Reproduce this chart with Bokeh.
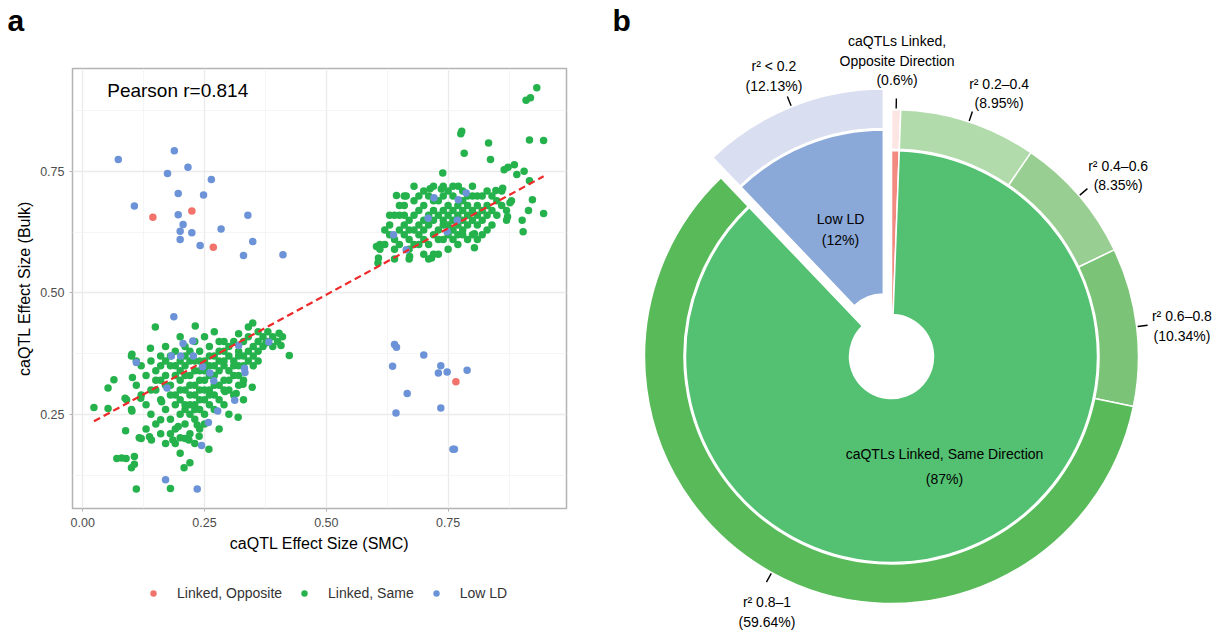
import numpy as np
from bokeh.plotting import figure
from bokeh.models import Range1d, FixedTicker, Legend, LegendItem, NumeralTickFormatter
from bokeh.layouts import row, column
from bokeh.embed import file_html
from bokeh.resources import INLINE
from bokeh.core.properties import value

FONT = "Liberation Sans"

# ---------------- panel a data ----------------
opp_x = [0.144, 0.224, 0.268, 0.766]
opp_y = [0.656, 0.669, 0.594, 0.317]

low_x = [0.073, 0.188, 0.216, 0.174, 0.264, 0.196, 0.248, 0.106, 0.196, 0.339,
         0.206, 0.200, 0.224, 0.284, 0.200, 0.241, 0.349, 0.330, 0.411,
         0.187, 0.206, 0.226, 0.182, 0.201, 0.110, 0.246, 0.227, 0.261, 0.269,
         0.332, 0.333, 0.312, 0.277, 0.258, 0.173, 0.244, 0.170, 0.235, 0.382, 0.320,
         0.638, 0.664, 0.709, 0.721, 0.771, 0.787, 0.769, 0.748,
         0.640, 0.644, 0.700, 0.636, 0.735, 0.730, 0.748, 0.789, 0.666, 0.643,
         0.735, 0.760, 0.763]
low_y = [0.775, 0.793, 0.759, 0.746, 0.734, 0.705, 0.702, 0.679, 0.661, 0.660,
         0.641, 0.627, 0.624, 0.632, 0.610, 0.598, 0.606, 0.577, 0.579,
         0.451, 0.396, 0.401, 0.370, 0.370, 0.357, 0.348, 0.370, 0.335, 0.319,
         0.345, 0.336, 0.279, 0.257, 0.233, 0.304, 0.186, 0.115, 0.096, 0.399, 0.392,
         0.620, 0.589, 0.654, 0.696, 0.692, 0.706, 0.650, 0.626,
         0.394, 0.388, 0.372, 0.349, 0.350, 0.335, 0.337, 0.341, 0.293, 0.253,
         0.263, 0.178, 0.178]

same_pts = [
    # upper-right group, sparse part
    (0.932, 0.923), (0.910, 0.897), (0.919, 0.902), (0.917, 0.815), (0.946, 0.814),
    (0.778, 0.833), (0.776, 0.828), (0.833, 0.809), (0.783, 0.788), (0.837, 0.775),
    (0.865, 0.754), (0.873, 0.759), (0.886, 0.764), (0.906, 0.751), (0.891, 0.744),
    (0.739, 0.747), (0.917, 0.731), (0.923, 0.692), (0.946, 0.664), (0.915, 0.670),
    (0.902, 0.650), (0.904, 0.626), (0.872, 0.657), (0.877, 0.686), (0.862, 0.716),
    (0.848, 0.711), (0.804, 0.593), (0.804, 0.622), (0.603, 0.596), (0.607, 0.572),
    (0.606, 0.562), (0.716, 0.572), (0.671, 0.575), (0.644, 0.701), (0.664, 0.700),
    (0.713, 0.715), (0.736, 0.714), (0.771, 0.720),
    # upper-right group, dense part
    (0.62, 0.60), (0.63, 0.62), (0.63, 0.64), (0.64, 0.61), (0.64, 0.59), (0.65, 0.63),
    (0.65, 0.66), (0.65, 0.60), (0.66, 0.62), (0.66, 0.64), (0.66, 0.68), (0.67, 0.61),
    (0.67, 0.65), (0.67, 0.59), (0.68, 0.63), (0.68, 0.66), (0.68, 0.69), (0.68, 0.60),
    (0.69, 0.62), (0.69, 0.64), (0.69, 0.67), (0.70, 0.61), (0.70, 0.65), (0.70, 0.63),
    (0.70, 0.68), (0.71, 0.60), (0.71, 0.64), (0.71, 0.66), (0.71, 0.70), (0.72, 0.62),
    (0.72, 0.65), (0.72, 0.67), (0.72, 0.58), (0.73, 0.63), (0.73, 0.66), (0.73, 0.69),
    (0.73, 0.61), (0.74, 0.64), (0.74, 0.67), (0.74, 0.65), (0.74, 0.70), (0.75, 0.62),
    (0.75, 0.66), (0.75, 0.68), (0.75, 0.64), (0.76, 0.65), (0.76, 0.67), (0.76, 0.63),
    (0.76, 0.70), (0.77, 0.64), (0.77, 0.66), (0.77, 0.68), (0.77, 0.62), (0.78, 0.65),
    (0.78, 0.67), (0.78, 0.69), (0.78, 0.63), (0.79, 0.66), (0.79, 0.64), (0.79, 0.68),
    (0.80, 0.65), (0.80, 0.67), (0.80, 0.70), (0.80, 0.62), (0.81, 0.66), (0.81, 0.64),
    (0.81, 0.68), (0.82, 0.67), (0.82, 0.65), (0.82, 0.70), (0.83, 0.66), (0.83, 0.68),
    (0.84, 0.67), (0.84, 0.70), (0.85, 0.69), (0.86, 0.71), (0.85, 0.66), (0.84, 0.64),
    (0.83, 0.63), (0.81, 0.61), (0.79, 0.61), (0.77, 0.60), (0.75, 0.59), (0.73, 0.58),
    (0.70, 0.58), (0.69, 0.60), (0.67, 0.63), (0.66, 0.66), (0.65, 0.68), (0.66, 0.70),
    (0.68, 0.72), (0.70, 0.71), (0.72, 0.72), (0.74, 0.72), (0.76, 0.72), (0.78, 0.71),
    (0.80, 0.72), (0.63, 0.66), (0.62, 0.63), (0.61, 0.60), (0.61, 0.59), (0.64, 0.57),
    (0.67, 0.57), (0.71, 0.57), (0.74, 0.61), (0.76, 0.61), (0.78, 0.62), (0.82, 0.62),
    (0.86, 0.68), (0.87, 0.67), (0.88, 0.69), (0.87, 0.65), (0.64, 0.66), (0.69, 0.70),
    (0.72, 0.69), (0.75, 0.71), (0.79, 0.70), (0.81, 0.70), (0.83, 0.71),
    # lower-left group, sparse part
    (0.023, 0.264), (0.052, 0.304), (0.064, 0.321), (0.052, 0.262), (0.070, 0.159),
    (0.089, 0.159), (0.106, 0.163), (0.106, 0.147), (0.110, 0.096), (0.088, 0.216),
    (0.116, 0.202), (0.137, 0.204), (0.141, 0.197), (0.180, 0.097), (0.208, 0.140),
    (0.259, 0.178), (0.239, 0.205), (0.235, 0.228), (0.185, 0.197), (0.196, 0.225),
    (0.200, 0.202), (0.218, 0.197), (0.319, 0.244), (0.348, 0.306), (0.329, 0.312),
    (0.424, 0.371), (0.407, 0.392), (0.403, 0.417), (0.349, 0.438), (0.320, 0.416),
    (0.231, 0.432), (0.149, 0.430), (0.139, 0.386), (0.101, 0.374), (0.102, 0.326),
    (0.087, 0.283), (0.101, 0.257), (0.119, 0.283), (0.160, 0.239), (0.162, 0.276),
    (0.315, 0.293), (0.292, 0.297), (0.376, 0.397),
    # lower-left group, dense part
    (0.14, 0.36), (0.15, 0.34), (0.16, 0.37), (0.17, 0.33), (0.17, 0.39), (0.18, 0.35),
    (0.18, 0.31), (0.19, 0.38), (0.19, 0.33), (0.19, 0.29), (0.20, 0.36), (0.20, 0.41),
    (0.20, 0.32), (0.21, 0.35), (0.21, 0.30), (0.21, 0.27), (0.22, 0.38), (0.22, 0.33),
    (0.22, 0.29), (0.22, 0.25), (0.23, 0.36), (0.23, 0.40), (0.23, 0.31), (0.23, 0.27),
    (0.24, 0.34), (0.24, 0.38), (0.24, 0.30), (0.24, 0.26), (0.25, 0.36), (0.25, 0.32),
    (0.25, 0.41), (0.25, 0.28), (0.26, 0.35), (0.26, 0.39), (0.26, 0.30), (0.27, 0.37),
    (0.27, 0.33), (0.27, 0.29), (0.28, 0.36), (0.28, 0.40), (0.28, 0.31), (0.29, 0.35),
    (0.29, 0.38), (0.29, 0.32), (0.30, 0.34), (0.30, 0.39), (0.30, 0.30), (0.31, 0.36),
    (0.31, 0.33), (0.32, 0.38), (0.32, 0.35), (0.33, 0.40), (0.33, 0.37), (0.34, 0.36),
    (0.34, 0.41), (0.35, 0.39), (0.36, 0.38), (0.37, 0.41), (0.38, 0.40), (0.39, 0.41),
    (0.15, 0.30), (0.16, 0.28), (0.17, 0.26), (0.18, 0.24), (0.19, 0.22), (0.20, 0.25),
    (0.21, 0.23), (0.22, 0.21), (0.23, 0.24), (0.24, 0.22), (0.25, 0.25), (0.26, 0.27),
    (0.27, 0.26), (0.28, 0.28), (0.29, 0.27), (0.31, 0.29), (0.32, 0.31), (0.13, 0.33),
    (0.12, 0.35), (0.11, 0.31), (0.12, 0.29), (0.13, 0.27), (0.14, 0.25), (0.15, 0.23),
    (0.16, 0.35), (0.17, 0.36), (0.18, 0.37), (0.19, 0.35), (0.20, 0.34), (0.21, 0.37),
    (0.21, 0.39), (0.22, 0.36), (0.23, 0.34), (0.24, 0.36), (0.25, 0.34), (0.26, 0.33),
    (0.26, 0.37), (0.27, 0.35), (0.28, 0.34), (0.28, 0.38), (0.29, 0.36), (0.30, 0.37),
    (0.31, 0.35), (0.31, 0.40), (0.32, 0.37), (0.33, 0.35), (0.34, 0.38), (0.35, 0.37),
    (0.36, 0.40), (0.37, 0.39), (0.38, 0.42), (0.39, 0.39), (0.40, 0.40), (0.41, 0.41),
    (0.34, 0.43), (0.36, 0.42), (0.27, 0.42), (0.29, 0.40), (0.24, 0.32), (0.23, 0.29),
    (0.22, 0.31), (0.21, 0.33), (0.20, 0.30), (0.19, 0.27), (0.18, 0.29), (0.17, 0.31),
    (0.16, 0.32), (0.15, 0.32), (0.14, 0.30), (0.20, 0.28), (0.21, 0.26), (0.22, 0.27),
    (0.23, 0.26), (0.24, 0.28), (0.25, 0.30), (0.26, 0.29), (0.27, 0.31), (0.29, 0.30),
    (0.30, 0.32), (0.32, 0.33), (0.33, 0.32), (0.35, 0.35), (0.36, 0.36), (0.10, 0.37),
    (0.11, 0.36), (0.09, 0.28), (0.10, 0.26), (0.13, 0.22), (0.16, 0.21), (0.19, 0.19),
    (0.21, 0.20), (0.23, 0.19), (0.25, 0.23), (0.28, 0.22), (0.30, 0.25), (0.33, 0.28),
    (0.17, 0.19), (0.18, 0.21), (0.12, 0.20), (0.20, 0.17), (0.22, 0.15), (0.08, 0.16),
    (0.10, 0.14),
]
same_x = [p[0] for p in same_pts]
same_y = [p[1] for p in same_pts]

fit_slope = 0.547
fit_intercept = 0.223
pearson_text = "Pearson r=0.814"

x_ticks = [0.0, 0.25, 0.50, 0.75]
y_ticks = [0.25, 0.50, 0.75]
legend_labels = ["Linked, Opposite", "Linked, Same", "Low LD"]

# ---------------- panel b data ----------------
inner_names = ["caQTLs Linked, Opposite Direction", "caQTLs Linked, Same Direction", "Low LD"]
inner_pct = [0.6, 87.27, 12.13]
inner_pct_text = ["0.6%", "87%", "12%"]
inner_show = [False, True, True]
inner_explode = [0, 0, 1]
inner_colors = ["#F28A82", "#54C172", "#8AA8D8"]

outer_names = ["caQTLs Linked,\nOpposite Direction", "r\u00b2 0.2\u20130.4", "r\u00b2 0.4\u20130.6",
               "r\u00b2 0.6\u20130.8", "r\u00b2 0.8\u20131", "r\u00b2 < 0.2"]
outer_pct = [0.6, 8.95, 8.35, 10.34, 59.64, 12.13]
outer_pct_text = ["0.6%", "8.95%", "8.35%", "10.34%", "59.64%", "12.13%"]
outer_explode = [0, 0, 0, 0, 0, 1]
outer_colors = ["#FCE6E4", "#B2DBAB", "#98CE91", "#7BC477", "#59BA59", "#D9DEF0"]

# ---------------- layout constants ----------------
C_OPP, C_SAME, C_LOW = "#F1736B", "#25B24C", "#6C93D7"
H = 630
HEAD_H = 40
LEG_H = 60
PA_H = H - LEG_H - HEAD_H


def blank(fig):
    fig.frame_align = False
    fig.axis.visible = False
    fig.grid.visible = False
    fig.outline_line_color = None
    return fig


# ---------------- header strip with panel letter a ----------------
hd = blank(figure(width=600, height=HEAD_H, output_backend="svg", toolbar_location=None,
                  x_range=Range1d(0, 600), y_range=Range1d(0, HEAD_H), min_border=0))
hd.text(x=[7], y=[HEAD_H - 3], text=["a"], text_font=value(FONT), text_font_size="30px",
        text_font_style="bold", text_align="left", text_baseline="top", text_color="black")

# ---------------- panel a ----------------
p = figure(width=600, height=PA_H, output_backend="svg", toolbar_location=None,
           x_range=Range1d(-0.021, 0.993), y_range=Range1d(0.056, 0.9625),
           min_border_left=72, min_border_right=34, min_border_top=68 - HEAD_H,
           min_border_bottom=PA_H + HEAD_H - 508)
p.frame_align = False
p.outline_line_color = "#B3B3B3"
p.outline_line_width = 1.5
p.background_fill_color = "white"

p.xaxis.ticker = FixedTicker(ticks=x_ticks, minor_ticks=[0.125, 0.375, 0.625, 0.875])
p.yaxis.ticker = FixedTicker(ticks=y_ticks, minor_ticks=[0.125, 0.375, 0.625, 0.875])
for ax in (p.xaxis, p.yaxis):
    ax.formatter = NumeralTickFormatter(format="0.00")
    ax.axis_line_color = None
    ax.major_tick_line_color = "#B3B3B3"
    ax.major_tick_out = 3
    ax.major_tick_in = 0
    ax.minor_tick_line_color = None
    ax.major_label_text_font = FONT
    ax.major_label_text_font_size = "12.5px"
    ax.major_label_text_color = "#4D4D4D"
    ax.axis_label_text_font = FONT
    ax.axis_label_text_font_size = "16px"
    ax.axis_label_text_font_style = "normal"
    ax.axis_label_text_color = "black"
p.xaxis.axis_label = "caQTL Effect Size (SMC)"
p.yaxis.axis_label = "caQTL Effect Size (Bulk)"
p.xaxis.major_label_standoff = 5
p.yaxis.major_label_standoff = 4
p.xaxis.axis_label_standoff = 5
p.yaxis.axis_label_standoff = 4

for g in (p.xgrid, p.ygrid):
    g.grid_line_color = "#EBEBEB"
    g.grid_line_width = 1.4
    g.minor_grid_line_color = "#F3F3F3"
    g.minor_grid_line_width = 0.8

all_x = opp_x + low_x + same_x
xl = np.array([min(all_x), max(all_x)])

p.scatter(same_x, same_y, size=7.5, fill_color=C_SAME, line_color=None)
p.scatter(low_x, low_y, size=7.5, fill_color=C_LOW, line_color=None)
p.scatter(opp_x, opp_y, size=7.5, fill_color=C_OPP, line_color=None)
p.line(xl, fit_intercept + fit_slope * xl, line_color="#EE2A2A", line_width=2.2,
       line_dash="7 4")

p.text(x=[0.195], y=[0.917], text=[pearson_text], text_font=value(FONT),
       text_font_size="19px", text_align="center", text_baseline="middle", text_color="black")

# ---------------- legend strip under panel a ----------------
lg = blank(figure(width=600, height=LEG_H, output_backend="svg", toolbar_location=None,
                  x_range=Range1d(0, 1), y_range=Range1d(0, 1), min_border=0))
leg_renderers = [lg.scatter([-10], [-10], size=7.5, fill_color=c, line_color=None)
                 for c in (C_OPP, C_SAME, C_LOW)]
legend = Legend(items=[LegendItem(label=t, renderers=[r]) for t, r in zip(legend_labels, leg_renderers)],
                orientation="horizontal", location=(145, LEG_H - 23 - 8))
legend.label_text_font = FONT
legend.label_text_font_size = "14px"
legend.label_text_color = "#333333"
legend.glyph_width = 16
legend.glyph_height = 16
legend.label_standoff = 16
legend.spacing = 14
legend.padding = 0
legend.margin = 0
legend.border_line_color = None
legend.background_fill_alpha = 0
lg.add_layout(legend)

# ---------------- panel b ----------------
W2 = 617
q = blank(figure(width=W2, height=H, output_backend="svg", toolbar_location=None,
                 x_range=Range1d(0, W2), y_range=Range1d(0, H), min_border=0))

CX, CY = 291.0, H - 356.0
HOLE, R_IN, R_RING0, R_RING1 = 42, 206, 207.5, 247
EXPLODE = 22


def slices(pcts):
    c = np.concatenate([[0.0], np.cumsum(pcts)]) / np.sum(pcts) * 360.0
    return c[:-1], c[1:], (c[:-1] + c[1:]) / 2


def centre(mid, ex):
    t = np.radians(mid)
    return CX + ex * EXPLODE * np.sin(t), CY + ex * EXPLODE * np.cos(t)


def polar(x0, y0, r, theta):
    t = np.radians(theta)
    return x0 + r * np.sin(t), y0 + r * np.cos(t)


# outer ring
o0, o1, om = slices(outer_pct)
ox, oy = zip(*[centre(m, e) for m, e in zip(om, outer_explode)])
q.annular_wedge(x=list(ox), y=list(oy), inner_radius=R_RING0, outer_radius=R_RING1,
                start_angle=list(np.radians(90 - o1)), end_angle=list(np.radians(90 - o0)),
                direction="anticlock", fill_color=outer_colors, line_color="white", line_width=1.5)
# inner pie
i0, i1, im = slices(inner_pct)
ix, iy = zip(*[centre(m, e) for m, e in zip(im, inner_explode)])
q.annular_wedge(x=list(ix), y=list(iy), inner_radius=HOLE, outer_radius=R_IN,
                start_angle=list(np.radians(90 - i1)), end_angle=list(np.radians(90 - i0)),
                direction="anticlock", fill_color=inner_colors, line_color="white", line_width=1.5)

# outer labels with leader ticks
lab_nudge = [0.0, 4.0, 2.0, 1.0, -3.0, -1.0]
lab_r = [296, 284, 290, 292, 284, 282]
for k in range(len(outer_pct)):
    x0, y0 = ox[k], oy[k]
    ax_, ay_ = polar(x0, y0, R_RING1 + 1, om[k])
    bx_, by_ = polar(x0, y0, R_RING1 + 11, om[k])
    q.segment(x0=[ax_], y0=[ay_], x1=[bx_], y1=[by_], line_color="black", line_width=1.4)
    tx, ty = polar(x0, y0, lab_r[k], om[k] + lab_nudge[k])
    q.text(x=[tx], y=[ty], text=[outer_names[k] + "\n(" + outer_pct_text[k] + ")"],
           text_font=value(FONT), text_font_size="14px", text_align="center",
           text_baseline="middle", text_line_height=1.22, text_color="black")

# inner labels
in_r = [0, 122, 115]
in_nudge = [0, -5, 0]
in_lh = [1.2, 1.6, 1.3]
for k in range(len(inner_pct)):
    if not inner_show[k]:
        continue
    tx, ty = polar(ix[k], iy[k], in_r[k], im[k] + in_nudge[k])
    q.text(x=[tx], y=[ty], text=[inner_names[k] + "\n(" + inner_pct_text[k] + ")"],
           text_font=value(FONT), text_font_size="14px", text_align="center",
           text_baseline="middle", text_line_height=in_lh[k], text_color="black")

q.text(x=[12], y=[H - 3], text=["b"], text_font=value(FONT), text_font_size="30px",
       text_font_style="bold", text_align="left", text_baseline="top", text_color="black")

layout = row(column(hd, p, lg), q)
open("out.html", "w").write(file_html(layout, INLINE))
